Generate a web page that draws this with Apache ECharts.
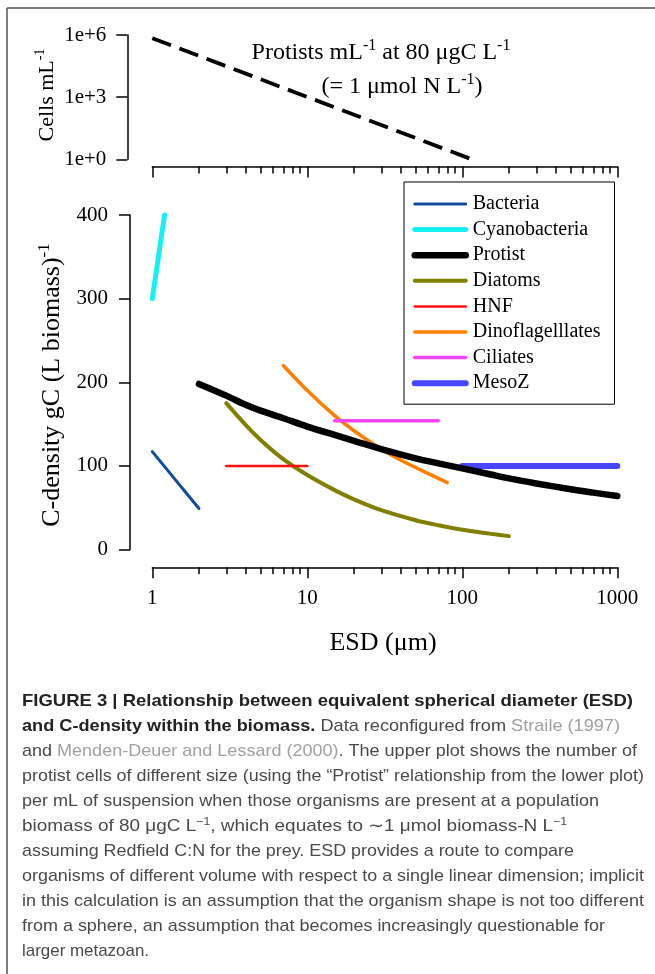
<!DOCTYPE html>
<html><head><meta charset="utf-8">
<script src="https://cdn.jsdelivr.net/npm/echarts@6/dist/echarts.min.js"></script>
<style>html,body{margin:0;padding:0;background:#fff}#c{width:655px;height:974px}</style>
</head><body><div id="c"></div>
<script>
// ---------------- DATA ----------------
const seriesNames = ['Bacteria', 'Cyanobacteria', 'Protist', 'Diatoms', 'HNF', 'Dinoflagelllates', 'Ciliates', 'MesoZ'];
// [ESD (µm), C-density gC (L biomass)^-1]
const bacteria = [[1, 117], [2, 49]];
const cyanobacteria = [[1, 300], [1.2, 400]];
const protist = [[2, 198], [3, 184], [4, 173], [5, 166], [7, 157], [10, 147], [15, 137], [20, 130], [30, 120], [50, 109], [70, 103], [100, 97], [150, 90], [200, 85], [300, 79], [500, 72], [700, 68], [1000, 64]];
const diatoms = [[3, 175], [4, 149], [5, 131], [7, 108], [10, 89], [15, 71], [20, 60], [30, 47], [50, 35], [70, 29], [100, 23.5], [150, 19], [200, 16]];
const hnf = [[3, 100], [10, 100]];
const dinoflagellates = [[7, 220], [10, 190], [15, 160], [20, 142], [30, 120], [40, 107], [50, 98], [60, 91], [80, 80]];
const ciliates = [[15, 154], [70, 154]];
const mesoZ = [[100, 100], [1000, 100]];
// Top panel: protist cells per mL at 80 µgC L^-1
const protistCells = [[1, 7e5], [115, 1]];
// Ticks
const xMajorTicks = [1, 10, 100, 1000];
const xMinorTicks = [2, 3, 4, 5, 6, 7, 8, 9, 20, 30, 40, 50, 60, 70, 80, 90, 200, 300, 400, 500, 600, 700, 800, 900];
const cellTicks = [1, 1e3, 1e6];
const cellTickLabels = ['1e+0', '1e+3', '1e+6'];
const densityTicks = [0, 100, 200, 300, 400];

// ---------------- STYLE ----------------
const SERIF = '"Liberation Serif", "Times New Roman", serif';
const SANS = '"Liberation Sans", Arial, sans-serif';
const colors = ['#134c9c', '#14f0f5', '#000000', '#7f7f00', '#ff1010', '#ff8000', '#ff44ff', '#4646ff'];
const widths = [3, 5, 6.5, 4, 2.5, 3.5, 3.5, 6];
const smoothFlags = [false, false, true, true, false, true, false, false];
const seriesData = [bacteria, cyanobacteria, protist, diatoms, hnf, dinoflagellates, ciliates, mesoZ];

const chart = echarts.init(document.getElementById('c'), null, { renderer: 'canvas' });

const axisLineStyle = { color: '#000', width: 1.5 };
function xAxisDef(gridIndex, offset, major, showLabels) {
  return {
    gridIndex, type: 'log', logBase: 10, min: 1, max: 1000, position: 'bottom', offset,
    axisLine: { show: major, onZero: false, lineStyle: axisLineStyle },
    axisTick: { show: true, length: major ? 11 : 7, lineStyle: axisLineStyle, customValues: major ? xMajorTicks : xMinorTicks },
    axisLabel: {
      show: showLabels, customValues: xMajorTicks, margin: 21, color: '#000', fontFamily: SERIF, fontSize: 21,
      formatter: v => String(Math.round(v))
    },
    splitLine: { show: false }, minorTick: { show: false }, minorSplitLine: { show: false }
  };
}

const series = seriesData.map((d, i) => ({
  name: seriesNames[i], type: 'line', xAxisIndex: 2, yAxisIndex: 1, data: d,
  symbol: 'none', showSymbol: false, clip: false, silent: true, animation: false,
  smooth: smoothFlags[i] ? 0.3 : false,
  lineStyle: { color: colors[i], width: widths[i], cap: 'round', join: 'round' },
  itemStyle: { color: colors[i] }, z: i === 2 ? 3 : 2
}));
series.push({
  name: 'cells', type: 'line', xAxisIndex: 0, yAxisIndex: 0, data: protistCells,
  symbol: 'none', showSymbol: false, clip: false, silent: true, animation: false,
  lineStyle: { color: '#000', width: 3.8, type: [20, 9], cap: 'butt' }, itemStyle: { color: '#000' }
});

// caption lines: tokens [style, text]
const captionLines = [
  [['b', 'FIGURE 3 | Relationship between equivalent spherical diameter (ESD)']],
  [['b', 'and C-density within the biomass.'], ['n', ' Data reconfigured from '], ['g', 'Straile (1997)']],
  [['n', 'and '], ['g', 'Menden-Deuer and Lessard (2000)'], ['n', '. The upper plot shows the number of']],
  [['n', 'protist cells of different size (using the \u201cProtist\u201d relationship from the lower plot)']],
  [['n', 'per mL of suspension when those organisms are present at a population']],
  [['n', 'biomass of 80 \u03bcgC L'], ['s', '\u22121'], ['n', ', which equates to \u223c1 \u03bcmol biomass-N L'], ['s', '\u22121']],
  [['n', 'assuming Redfield C:N for the prey. ESD provides a route to compare']],
  [['n', 'organisms of different volume with respect to a single linear dimension; implicit']],
  [['n', 'in this calculation is an assumption that the organism shape is not too different']],
  [['n', 'from a sphere, an assumption that becomes increasingly questionable for']],
  [['n', 'larger metazoan.']]
];
const captionRight = [633, 620, 637, 644, 599, 567, 574, 644, 644, 605, 149];
const capLeft = 22, capTop = 701, capStep = 25;
const capStyles = {
  n: { fontFamily: SANS, fontSize: 17, fontWeight: 'normal', fill: '#4a4a4a', lineHeight: 20 },
  b: { fontFamily: SANS, fontSize: 17, fontWeight: 'bold', fill: '#222222', lineHeight: 20 },
  g: { fontFamily: SANS, fontSize: 17, fontWeight: 'normal', fill: '#a0a0a0', lineHeight: 20 },
  s: { fontFamily: SANS, fontSize: 11, fontWeight: 'normal', fill: '#4a4a4a', lineHeight: 4, verticalAlign: 'top' }
};
const mctx = document.createElement('canvas').getContext('2d');
function measureTokens(tokens) {
  let w = 0;
  tokens.forEach(([k, t]) => {
    const s = capStyles[k];
    mctx.font = `${s.fontWeight} ${s.fontSize}px ${s.fontFamily}`;
    w += mctx.measureText(t).width;
  });
  return w;
}
const captionGraphics = captionLines.map((tokens, i) => {
  const w = measureTokens(tokens);
  const sx = (captionRight[i] - capLeft) / w;
  return {
    type: 'text', x: capLeft, y: capTop + capStep * i, scaleX: sx, silent: true,
    style: {
      text: tokens.map(([k, t]) => `{${k}|${t}}`).join(''),
      rich: capStyles, align: 'left', verticalAlign: 'middle', x: 0, y: 0
    }
  };
});

const serifRich = (main, sup, lh) => ({
  n: { fontFamily: SERIF, fontSize: main, fill: '#000', lineHeight: lh },
  s: { fontFamily: SERIF, fontSize: sup, fill: '#000', lineHeight: 6, verticalAlign: 'top' }
});

const option = {
  animation: false,
  backgroundColor: '#fff',
  grid: [
    { left: 152.3, right: 37.7, top: 35, height: 124.3, outerBoundsMode: 'none', containLabel: false },
    { left: 152.3, right: 37.7, top: 215, height: 334.5, outerBoundsMode: 'none', containLabel: false }
  ],
  xAxis: [
    xAxisDef(0, 7.2, true, false),
    xAxisDef(0, 7.2, false, false),
    xAxisDef(1, 17.8, true, true),
    xAxisDef(1, 17.8, false, false)
  ],
  yAxis: [
    {
      gridIndex: 0, type: 'log', logBase: 10, min: 1, max: 1e6, offset: 25,
      axisLine: { show: true, onZero: false, lineStyle: axisLineStyle },
      axisTick: { show: true, length: 11, lineStyle: axisLineStyle, customValues: cellTicks },
      axisLabel: {
        customValues: cellTicks, margin: 21, color: '#000', fontFamily: SERIF, fontSize: 21,
        formatter: v => cellTickLabels[Math.round(Math.log10(v) / 3)]
      },
      splitLine: { show: false }
    },
    {
      gridIndex: 1, type: 'value', min: 0, max: 400, interval: 100, offset: 22.3,
      axisLine: { show: true, onZero: false, lineStyle: axisLineStyle },
      axisTick: { show: true, length: 11, lineStyle: axisLineStyle, customValues: densityTicks },
      axisLabel: { customValues: densityTicks, margin: 22, color: '#000', fontFamily: SERIF, fontSize: 21 },
      splitLine: { show: false }
    }
  ],
  legend: {
    orient: 'vertical', left: 404, top: 182, padding: [12, 14, 11, 7.5],
    itemGap: 5.6, itemWidth: 51, itemHeight: 20,
    borderColor: '#000', borderWidth: 1, borderRadius: 0, backgroundColor: '#fff',
    textStyle: { fontFamily: SERIF, fontSize: 20, color: '#000', padding: [0, 0, 0, 2] },
    itemStyle: { opacity: 0 },
    lineStyle: { width: 'inherit', cap: 'round' },
    selectedMode: false,
    data: seriesNames
  },
  series,
  graphic: [
    { type: 'line', silent: true, shape: { x1: 7, y1: 8, x2: 655, y2: 8 }, style: { stroke: '#555', lineWidth: 1.5 } },
    { type: 'line', silent: true, shape: { x1: 7, y1: 8, x2: 7, y2: 974 }, style: { stroke: '#555', lineWidth: 1.5 } },
    {
      type: 'text', x: 381, y: 53, silent: true,
      style: { text: '{n|Protists mL}{s|-1}{n| at 80 \u03bcgC L}{s|-1}', rich: serifRich(24, 16, 30), align: 'center', verticalAlign: 'middle' }
    },
    {
      type: 'text', x: 402, y: 87, silent: true,
      style: { text: '{n|(= 1 \u03bcmol N L}{s|-1}{n|)}', rich: serifRich(24, 16, 30), align: 'center', verticalAlign: 'middle' }
    },
    {
      type: 'text', x: 47, y: 95, rotation: Math.PI / 2, silent: true,
      style: { text: '{n|Cells mL}{s|-1}', rich: serifRich(22, 14, 28), align: 'center', verticalAlign: 'middle' }
    },
    {
      type: 'text', x: 52, y: 385, rotation: Math.PI / 2, silent: true,
      style: { text: '{n|C-density gC (L biomass)}{s|-1}', rich: serifRich(26, 17, 32), align: 'center', verticalAlign: 'middle' }
    },
    {
      type: 'text', x: 383, y: 643, silent: true,
      style: { text: 'ESD (\u03bcm)', fontFamily: SERIF, fontSize: 26, fill: '#000', align: 'center', verticalAlign: 'middle' }
    }
  ].concat(captionGraphics)
};
chart.setOption(option);
</script>
</body></html>
